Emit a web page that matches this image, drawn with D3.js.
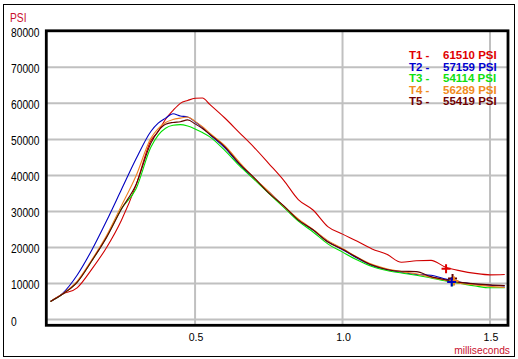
<!DOCTYPE html>
<html><head><meta charset="utf-8">
<script src="https://cdn.jsdelivr.net/npm/d3@7"></script>
<style>
html,body{margin:0;padding:0;background:#fff;}
svg{display:block;}
.ax{font-family:"Liberation Sans",Arial,sans-serif;font-size:12.5px;}
.axs{font-family:"Liberation Sans",Arial,sans-serif;font-size:11.5px;}
.lg{font-family:"Liberation Sans",Arial,sans-serif;font-size:11.5px;font-weight:bold;}
</style></head>
<body><svg id="c" width="518" height="359"></svg>
<script>
const seriesNames = ["T1","T2","T3","T4","T5"];
const peakLabels = ["61510 PSI","57159 PSI","54114 PSI","56289 PSI","55419 PSI"];
const lineColors = ["#d00000","#0000c0","#00e000","#f08020","#600000"];
const legendColors = ["#e00000","#0000d0","#10e010","#f08a20","#700000"];
const yTicks = [0,10000,20000,30000,40000,50000,60000,70000,80000];
const xTicks = [0.5,1.0,1.5];
const xTickLabels = ["0.5","1.0","1.5"];
const times = [0.01,0.05,0.1,0.15,0.2,0.25,0.3,0.35,0.375,0.4,0.425,0.45,0.475,0.5,0.525,0.55,0.6,0.65,0.7,0.75,0.8,0.85,0.9,0.95,1.0,1.05,1.1,1.15,1.2,1.25,1.3,1.35,1.4,1.45,1.5,1.55];
const t1 = [5000,7000,8800,14000,20000,27500,37300,49600,52200,55600,58000,60000,60800,61400,61500,59700,56000,51900,47800,43300,38700,33300,30400,25800,23700,21700,19600,18100,15900,16300,16400,14500,13500,12800,12400,12500];
const t2 = [5000,7200,12300,19300,27400,36000,44600,52200,54500,55900,57100,56500,56200,54900,53300,51300,47700,43100,39100,35400,31400,27700,24800,21700,19400,17000,15000,13900,13100,12500,12300,11200,10300,9800,9500,9300];
const t3 = [5000,7000,10400,16300,22900,30700,36300,47800,51200,53100,53900,54100,53700,52900,51900,50700,47000,42700,38900,35000,31200,27300,24300,21000,18700,16500,14700,13600,12900,12300,11500,10700,10000,9300,8800,8800];
const t4 = [5000,7100,10600,16600,23300,31500,39900,50300,53000,54700,55500,55900,56200,55000,53500,51700,48300,43700,39300,35500,31500,27900,25000,21900,19700,17300,15300,14100,13300,12700,11700,10900,10000,9600,9200,8900];
const t5 = [5000,7000,10300,16300,22800,30600,37500,48900,52300,54200,54700,54900,55400,54300,53000,51400,48000,43300,39400,35100,31600,27600,24900,21500,19500,17200,15100,13900,13400,13300,11900,11000,10300,9900,9600,9400];
const markerTimes = [1.351,1.370,1.372,1.378,1.373];
const markerValues = [14100,10400,10500,10660,11360];

const series = [t1,t2,t3,t4,t5];
const svg = d3.select("#c");

const x = d3.scaleLinear().domain([0,1.5]).range([47.6,490]);
const y = d3.scaleLinear().domain([0,80000]).range([319.5,31.3]);

const plot = {l:46.3, t:30.8, r:508, b:325.3};

svg.append("rect").attr("x",3.5).attr("y",4.5).attr("width",511).attr("height",352)
  .attr("fill","#fff").attr("stroke","#000").attr("stroke-width",1);

svg.append("clipPath").attr("id","clip").append("rect")
  .attr("x",plot.l+1.5).attr("y",plot.t+1.5).attr("width",plot.r-plot.l-3).attr("height",plot.b-plot.t-3);

const grid = svg.append("g");
grid.selectAll("line.h").data(yTicks.filter(d=>d<80000)).join("line")
  .attr("x1",plot.l).attr("x2",plot.r).attr("y1",d=>y(d)).attr("y2",d=>y(d))
  .attr("stroke","#c0c0c0").attr("stroke-width",2);
grid.selectAll("line.v").data(xTicks).join("line")
  .attr("x1",d=>x(d)).attr("x2",d=>x(d)).attr("y1",plot.t).attr("y2",plot.b)
  .attr("stroke","#c0c0c0").attr("stroke-width",2);

const line = d3.line().x((d,i)=>x(times[i])).y(d=>y(d)).curve(d3.curveMonotoneX);
const cg = svg.append("g").attr("clip-path","url(#clip)");
series.forEach((s,k)=>{
  cg.append("path").attr("d",line(s)).attr("fill","none")
    .attr("stroke",lineColors[k]).attr("stroke-width",1.1);
});
const mOrder = [2,4,3,1,0];
mOrder.forEach(k=>{
  const mx = x(markerTimes[k]), my = y(markerValues[k]);
  const c = k===0 ? "#e00000" : lineColors[k];
  cg.append("line").attr("x1",mx-4.5).attr("x2",mx+4.5).attr("y1",my).attr("y2",my)
    .attr("stroke",c).attr("stroke-width",2);
  cg.append("line").attr("x1",mx).attr("x2",mx).attr("y1",my-4.5).attr("y2",my+4.5)
    .attr("stroke",c).attr("stroke-width",2);
});

svg.append("rect").attr("x",plot.l).attr("y",plot.t).attr("width",plot.r-plot.l).attr("height",plot.b-plot.t)
  .attr("fill","none").attr("stroke","#000").attr("stroke-width",2.8);

// compress text horizontally; anchor: "start" | "middle" | "end" handled manually
function narrow(sel, f, anchor){
  sel.each(function(){
    const el = d3.select(this);
    const w = this.getComputedTextLength();
    const nw = w*f;
    const ax = +el.attr("x");
    let sx = ax;
    if(anchor==="middle") sx = ax - nw/2;
    if(anchor==="end") sx = ax - nw;
    el.attr("text-anchor","start").attr("x",sx.toFixed(1))
      .attr("textLength",nw.toFixed(1)).attr("lengthAdjust","spacingAndGlyphs");
  });
}

svg.append("g").selectAll("text").data(yTicks).join("text").attr("class","ax")
  .attr("x",11).attr("y",d=>y(d)+6).attr("fill","#000").text(d=>d).call(narrow,0.82,"start");
svg.append("g").selectAll("text").data(xTicks).join("text").attr("class","axs")
  .attr("x",d=>x(d)+1).attr("y",340.5).attr("fill","#000")
  .text((d,i)=>xTickLabels[i]).call(narrow,0.92,"middle");

svg.append("text").attr("class","ax").attr("x",10).attr("y",21.5).attr("fill","#c8102e").text("PSI").call(narrow,0.82,"start");
svg.append("text").attr("class","axs").attr("x",510).attr("y",354).attr("fill","#c8102e").text("milliseconds").call(narrow,0.89,"end");

const lg = svg.append("g");
seriesNames.forEach((n,k)=>{
  const yy = 59 + k*11.5;
  const t = lg.append("text").attr("class","lg").attr("y",yy).attr("fill",legendColors[k]);
  t.append("tspan").attr("x",409).text(n+" -");
  t.append("tspan").attr("x",443).text(peakLabels[k]);
});
</script></body></html>
